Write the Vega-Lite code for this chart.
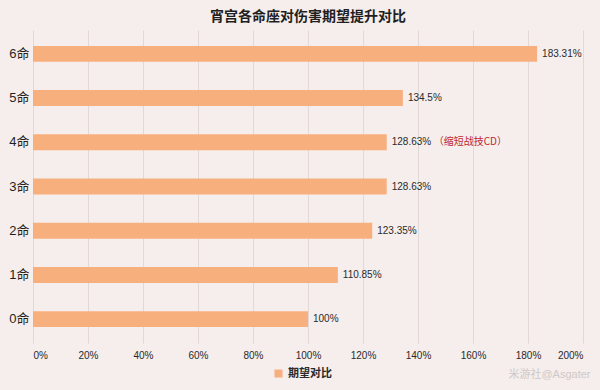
{
  "$schema": "https://vega.github.io/schema/vega-lite/v6.json",
  "width": 550,
  "height": 313,
  "autosize": {"type": "none"},
  "padding": {"left": 33, "top": 30, "right": 17, "bottom": 47},
  "background": "#f5eeec",
  "title": {
    "text": "宵宫各命座对伤害期望提升对比",
    "fontSize": 14,
    "font": "Noto Sans CJK SC",
    "fontWeight": "bold",
    "color": "#1f1f1f",
    "offset": 6,
    "anchor": "middle"
  },
  "data": {
    "values": [
      {"c": "6命", "v": 1.8331, "label": "183.31%", "note": "", "s": "期望对比"},
      {"c": "5命", "v": 1.345, "label": "134.5%", "note": "", "s": "期望对比"},
      {"c": "4命", "v": 1.2863, "label": "128.63%", "note": "（缩短战技CD）", "s": "期望对比"},
      {"c": "3命", "v": 1.2863, "label": "128.63%", "note": "", "s": "期望对比"},
      {"c": "2命", "v": 1.2335, "label": "123.35%", "note": "", "s": "期望对比"},
      {"c": "1命", "v": 1.1085, "label": "110.85%", "note": "", "s": "期望对比"},
      {"c": "0命", "v": 1.0, "label": "100%", "note": "", "s": "期望对比"}
    ]
  },
  "encoding": {
    "y": {
      "field": "c",
      "type": "nominal",
      "sort": null,
      "scale": {"paddingInner": 0.64, "paddingOuter": 0.36},
      "axis": {
        "title": null,
        "domain": false,
        "ticks": false,
        "labelPadding": 4,
        "labelFont": "Liberation Sans, Noto Sans CJK SC",
        "labelFontSize": 13,
        "labelColor": "#1f1f1f"
      }
    },
    "x": {
      "field": "v",
      "type": "quantitative",
      "scale": {"domain": [0, 2]},
      "axis": {
        "format": ".0%",
        "values": [0, 0.2, 0.4, 0.6, 0.8, 1, 1.2, 1.4, 1.6, 1.8, 2],
        "labelOverlap": false,
        "domain": false,
        "ticks": false,
        "grid": true,
        "gridColor": "#e2d8d5",
        "labelFont": "Liberation Sans, Noto Sans CJK SC",
        "labelFontSize": 10,
        "labelColor": "#2a2a2a",
        "labelPadding": 7,
        "title": "米游社@Asgater",
        "titleFont": "Liberation Sans, Noto Sans CJK SC",
        "titleFontSize": 11,
        "titleFontWeight": "normal",
        "titleColor": "#cfc8c8",
        "titleAnchor": null,
        "titleAlign": "right",
        "titleBaseline": "middle",
        "titleX": 557,
        "titleY": 31
      }
    }
  },
  "layer": [
    {
      "mark": {"type": "bar"},
      "encoding": {
        "color": {
          "field": "s",
          "type": "nominal",
          "scale": {"range": ["#f8af7e"]},
          "legend": {
            "title": null,
            "orient": "none",
            "legendX": 240,
            "legendY": 338,
            "symbolType": "square",
            "symbolSize": 64,
            "symbolStrokeWidth": 0,
            "labelFont": "Noto Sans CJK SC",
            "labelFontSize": 11,
            "labelFontWeight": "bold",
            "labelColor": "#2a2a2a"
          }
        }
      }
    },
    {
      "mark": {"type": "text", "align": "left", "dx": 5, "font": "Liberation Sans, Noto Sans CJK SC", "fontSize": 10, "color": "#2a2a2a"},
      "encoding": {"text": {"field": "label"}}
    },
    {
      "mark": {"type": "text", "align": "left", "dx": 47, "font": "Noto Sans CJK SC", "fontSize": 10, "color": "#c0262d"},
      "encoding": {"text": {"field": "note"}}
    }
  ],
  "config": {"view": {"stroke": null}}
}
